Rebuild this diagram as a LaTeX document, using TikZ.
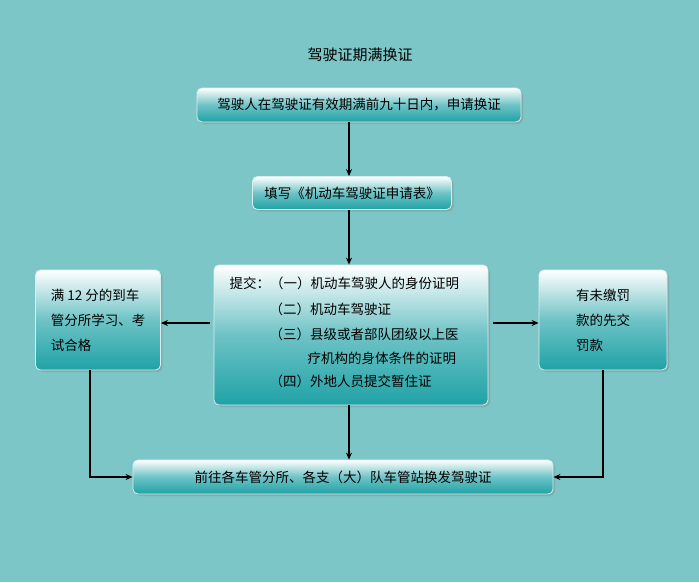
\documentclass[tikz,border=0pt]{standalone}
\usepackage{fontspec}
\setmainfont{Noto Sans CJK SC}
\usetikzlibrary{positioning,shadows,arrows.meta}
\definecolor{bgteal}{HTML}{7CC6C8}
\definecolor{boxteal}{HTML}{1FA2A6}
\begin{document}
\begin{tikzpicture}
		[x=1pt,y=-1pt,font=\fontsize{13.5}{25}\selectfont,
		stepbox/.style={rectangle,rounded corners=5pt,draw=white!70!bgteal,thick,
			top color=white,bottom color=boxteal,middle color=white!35!boxteal,
			drop shadow={shadow xshift=2pt,shadow yshift=-2pt,opacity=.35}},
		line/.style={line width=1.2pt,-{Stealth[length=7pt,width=6pt]}}]
		\fill [bgteal] (0,0) rectangle (699,582);
		\useasboundingbox (0,0) rectangle (699,582);

		\node (title) at (360,55) {\fontsize{15}{16}\selectfont 驾驶证期满换证};
		\node [stepbox,minimum width=324pt,minimum height=34pt] (apply) at (359,105) {驾驶人在驾驶证有效期满前九十日内，申请换证};
		\node [stepbox,minimum width=199pt,minimum height=33pt] (form) at (352,193) {填写《机动车驾驶证申请表》};
		\node [stepbox,minimum width=274pt,minimum height=140pt] (submit) at (351,335) {};
		\node [anchor=west] (s1) at (226,283) {提交：（一）机动车驾驶人的身份证明};
		\node [anchor=west] (s2) at (266,309) {（二）机动车驾驶证};
		\node [anchor=west] (s3) at (266,334) {（三）县级或者部队团级以上医};
		\node [anchor=west] (s4) at (304,358) {疗机构的身体条件的证明};
		\node [anchor=west] (s5) at (266,381) {（四）外地人员提交暂住证};
		\node [stepbox,minimum width=125pt,minimum height=100pt,align=left] (study) at (98,320) {满 12 分的到车\\管分所学习、考\\试合格};
		\node [stepbox,minimum width=128pt,minimum height=100pt,align=left] (fine) at (603,320) {有未缴罚\\款的先交\\罚款};
		\node [stepbox,minimum width=420pt,minimum height=34pt] (issue) at (343,477) {前往各车管分所、各支（大）队车管站换发驾驶证};

		\draw [line] (apply.south -| 349,0) -- (form.north -| 349,0);
		\draw [line] (form.south -| 349,0) -- (submit.north -| 349,0);
		\draw [line] (submit.south -| 349,0) -- (issue.north -| 349,0);
		\draw [line] (210,323) -- (study.east |- 0,323);
		\draw [line] (493,323) -- (fine.west |- 0,323);
		\draw [line] (study.south -| 90,0) |- (issue.west);
		\draw [line] (fine.south) |- (issue.east);
	\end{tikzpicture}
\end{document}
